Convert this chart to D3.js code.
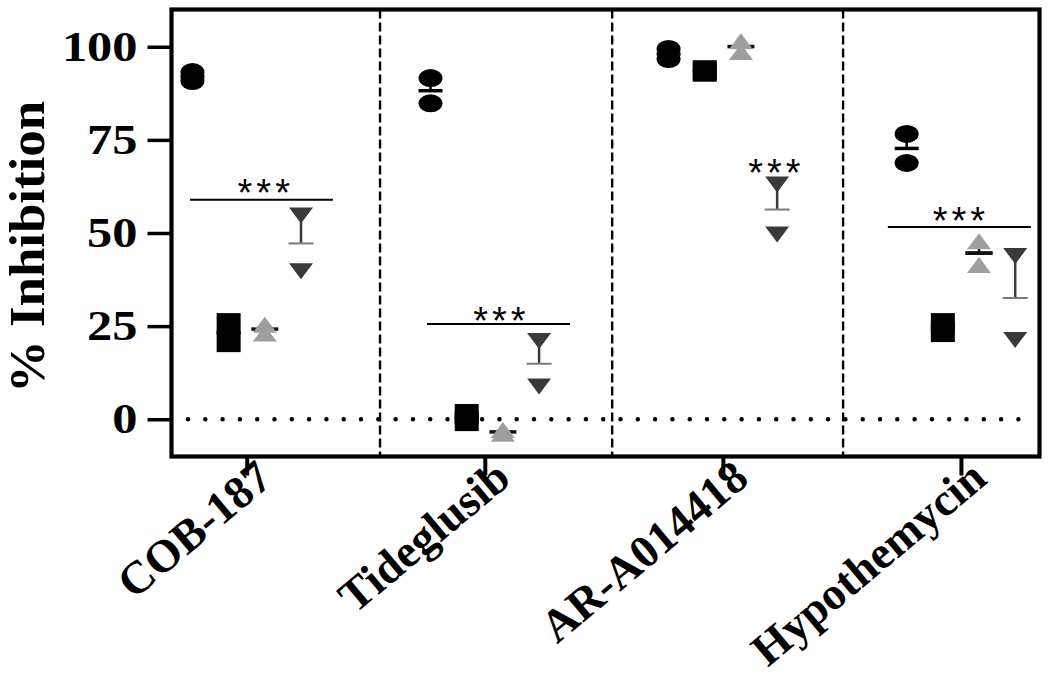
<!DOCTYPE html>
<html>
<head>
<meta charset="utf-8">
<script src="https://cdn.jsdelivr.net/npm/d3@7/dist/d3.min.js"></script>
<style>
  html, body { margin: 0; padding: 0; background: #fff; }
  svg { display: block; }
</style>
</head>
<body>
<svg id="chart" width="1050" height="676"></svg>
<script>
// ---------------- data ----------------
const categories = ["COB-187", "Tideglusib", "AR-A014418", "Hypothemycin"];
const yTicks = [0, 25, 50, 75, 100];
// replicate values per category (two replicates each)
const circleVals  = [[93.2, 90.8], [91.6, 84.8], [99.4, 96.7], [76.6, 68.8]];
const squareVals  = [[25.8, 20.7], [1.4, -0.5], [93.7, 93.3], [25.8, 23.4]];
const upTriVals   = [[25.4, 23.0], [-2.9, -3.9], [101.5, 98.6], [47.8, 41.4]];
const downTriVals = [[54.7, 39.7], [21.0, 8.8], [63.0, 49.6], [43.8, 21.3]];
// vertical dashed separators (in category units)
const dividers = [0.56, 1.535, 2.505];
// significance annotations
const sigLines = [
  { x0: -0.238, x1: 0.362, y: 58.9 },
  { x0: 0.757, x1: 1.358, y: 25.6 },
  { x0: 2.693, x1: 3.294, y: 51.6 }
];
const sigStars = [
  { x: 0.08, y: 62.9, label: "***" },
  { x: 1.07, y: 28.5, label: "***" },
  { x: 2.225, y: 68.2, label: "***" },
  { x: 3.0, y: 55.3, label: "***" }
];

// ---------------- layout ----------------
const SERIF = "Liberation Serif";
const SANS = "Liberation Sans";
const svg = d3.select("#chart");
const frame = { left: 171.5, right: 1039.5, top: 9.5, bottom: 456.5 };
const y = d3.scaleLinear().domain([-10, 110]).range([frame.bottom, frame.top]);
const x = d3.scaleLinear().domain([-0.316, 3.33]).range([frame.left, frame.right]);
const subStep = 0.152;
const subOffsets = [-1.5, -0.5, 0.5, 1.5].map(k => k * subStep);

const series = [
  { vals: circleVals,  shape: "circle", fill: "#000000", meanColor: "#000000", barColor: "#000000", meanW: 24, meanT: 3.5 },
  { vals: squareVals,  shape: "square", fill: "#000000", meanColor: "#000000", barColor: "#000000", meanW: 24, meanT: 3.5 },
  { vals: upTriVals,   shape: "up",     fill: "#9e9e9e", meanColor: "#111111", barColor: "#111111", meanW: 27, meanT: 3.5 },
  { vals: downTriVals, shape: "down",   fill: "#3a3a3a", meanColor: "#7a7a7a", barColor: "#3a3a3a", meanW: 25, meanT: 2 }
];

function shapePath(shape) {
  if (shape === "circle") {
    const rx = 12, ry = 9;
    return `M${-rx},0 A${rx},${ry} 0 1,0 ${rx},0 A${rx},${ry} 0 1,0 ${-rx},0 Z`;
  }
  if (shape === "square") return "M-12,-10 L12,-10 L12,10 L-12,10 Z";
  if (shape === "up") return "M0,-8 L12,8 L-12,8 Z";
  return "M-12,-8 L12,-8 L0,8 Z";
}

// dotted zero line
svg.append("line")
  .attr("x1", 188).attr("x2", frame.right - 6)
  .attr("y1", y(0)).attr("y2", y(0))
  .attr("stroke", "#000").attr("stroke-width", 4.5)
  .attr("stroke-linecap", "round")
  .attr("stroke-dasharray", "0,17.3");

// dashed dividers
svg.selectAll("line.div").data(dividers).enter().append("line")
  .attr("class", "div")
  .attr("x1", d => x(d)).attr("x2", d => x(d))
  .attr("y1", frame.top).attr("y2", frame.bottom)
  .attr("stroke", "#000").attr("stroke-width", 2.4)
  .attr("stroke-dasharray", "9,4");

// error bars (mean + SEM, upward) and mean lines
series.forEach((s, si) => {
  const g = svg.append("g");
  s.vals.forEach((vals, ci) => {
    const cx = x(ci + subOffsets[si]);
    const mean = d3.mean(vals);
    const sem = d3.deviation(vals) / Math.sqrt(vals.length);
    g.append("line")
      .attr("x1", cx).attr("x2", cx)
      .attr("y1", y(mean)).attr("y2", y(mean + sem))
      .attr("stroke", s.barColor).attr("stroke-width", 2.5);
    g.append("line")
      .attr("x1", cx - s.meanW / 2).attr("x2", cx + s.meanW / 2)
      .attr("y1", y(mean)).attr("y2", y(mean))
      .attr("stroke", s.meanColor).attr("stroke-width", s.meanT);
  });
});
// markers
series.forEach((s, si) => {
  const pts = [];
  s.vals.forEach((vals, ci) => vals.forEach(v => pts.push({ ci, v })));
  svg.append("g").selectAll("path").data(pts).enter().append("path")
    .attr("d", shapePath(s.shape))
    .attr("transform", d => `translate(${x(d.ci + subOffsets[si])},${y(d.v)})`)
    .attr("fill", s.fill);
});
// mean line of up-triangles visible between separated markers
series.forEach((s, si) => {
  if (s.shape !== "up") return;
  s.vals.forEach((vals, ci) => {
    const cx = x(ci + subOffsets[si]);
    const mean = d3.mean(vals);
    const gap = Math.abs(y(vals[0]) - y(vals[1]));
    if (gap > 17) {
      svg.append("line")
        .attr("x1", cx - s.meanW / 2).attr("x2", cx + s.meanW / 2)
        .attr("y1", y(mean)).attr("y2", y(mean))
        .attr("stroke", s.meanColor).attr("stroke-width", s.meanT);
    }
  });
});

// significance lines & stars
svg.selectAll("line.sig").data(sigLines).enter().append("line")
  .attr("class", "sig")
  .attr("x1", d => x(d.x0)).attr("x2", d => x(d.x1))
  .attr("y1", d => y(d.y)).attr("y2", d => y(d.y))
  .attr("stroke", "#000").attr("stroke-width", 2);
svg.selectAll("text.star").data(sigStars).enter().append("text")
  .attr("class", "star")
  .attr("x", d => x(d.x)).attr("y", d => y(d.y) + 21)
  .attr("text-anchor", "middle")
  .style("font-family", SANS)
  .style("font-size", "38px")
  .attr("letter-spacing", 4)
  .text(d => d.label);

// frame
svg.append("rect")
  .attr("x", frame.left).attr("y", frame.top)
  .attr("width", frame.right - frame.left).attr("height", frame.bottom - frame.top)
  .attr("fill", "none").attr("stroke", "#000").attr("stroke-width", 4.2);

// y axis
const yAxis = svg.append("g")
  .attr("transform", `translate(${frame.left},0)`)
  .call(d3.axisLeft(y).tickValues(yTicks).tickSize(24).tickPadding(10));
yAxis.select(".domain").remove();
yAxis.selectAll(".tick line").attr("stroke", "#000").attr("stroke-width", 3.5);
yAxis.selectAll(".tick text")
  .style("font-family", SERIF).style("font-weight", "bold").style("font-size", "42px")
  .attr("fill", "#000")
  .each(function () {
    const w = this.getComputedTextLength();
    d3.select(this).attr("textLength", w * 1.2).attr("lengthAdjust", "spacingAndGlyphs");
  });

// x axis
const xAxis = svg.append("g")
  .attr("transform", `translate(0,${frame.bottom})`)
  .call(d3.axisBottom(x).tickValues(d3.range(categories.length)).tickSize(19).tickFormat(() => ""));
xAxis.select(".domain").remove();
xAxis.selectAll(".tick line").attr("stroke", "#000").attr("stroke-width", 4);

svg.append("g").selectAll("text").data(categories).enter().append("text")
  .attr("transform", (d, i) => `translate(${x(i) + 28},${482}) rotate(-40)`)
  .attr("text-anchor", "end")
  .style("font-family", SERIF).style("font-weight", "bold").style("font-size", "46px")
  .text(d => d);

// y label
svg.append("text")
  .attr("transform", `translate(44,247) rotate(-90)`)
  .attr("text-anchor", "middle")
  .style("font-family", SERIF).style("font-weight", "bold").style("font-size", "50px")
  .attr("textLength", 292).attr("lengthAdjust", "spacingAndGlyphs")
  .text("% Inhibition");
</script>
</body>
</html>
